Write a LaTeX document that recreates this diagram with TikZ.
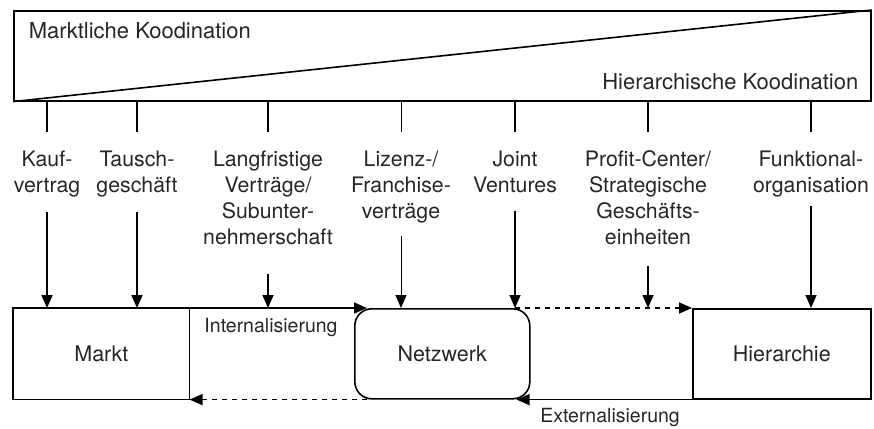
\documentclass[tikz,border=0pt]{standalone}
\usepackage{fontspec}
\setmainfont{TeX Gyre Heros}
\usetikzlibrary{arrows.meta,calc}
\begin{document}
\begin{tikzpicture}[x=1pt,y=-1pt,line width=1.6pt,
  lbl/.style={font=\fontsize{21.3}{26}\selectfont, align=center, anchor=north, inner sep=0pt, text=black!85},
  boxtext/.style={font=\fontsize{21.5}{26}\selectfont, text=black!85},
  small/.style={font=\fontsize{19.5}{24}\selectfont, text=black!85, inner sep=0pt},
  toptext/.style={font=\fontsize{22}{26}\selectfont, text=black!85, inner sep=0pt},
  arr/.style={-{Triangle[length=13pt,width=11pt]}},
  dsh/.style={dash pattern=on 5pt off 5pt},
  tickline/.style={line width=1.5pt},
  thinline/.style={line width=1pt}]
\useasboundingbox (0,0) rectangle (874,428);

% top scale box
\node[draw, rectangle, minimum width=857pt, minimum height=90pt, inner sep=0pt, anchor=north west] (scale) at (13,10) {};
\draw (scale.south west) -- (scale.north east);
\node[toptext, anchor=base west] (mk) at (28,39) {Marktliche Koodination};
\node[toptext, anchor=base east] (hk) at (859,89) {Hierarchische Koodination};

% labels
\node[lbl] (l1) at (47,150) {Kauf-\\vertrag};
\node[lbl] (l2) at (137,150) {Tausch-\\geschäft};
\node[lbl] (l3) at (268,150) {Langfristige\\Verträge/\\Subunter-\\nehmerschaft};
\node[lbl] (l4) at (401,150) {Lizenz-/\\Franchise-\\verträge};
\node[lbl] (l5) at (515,150) {Joint\\Ventures};
\node[lbl] (l6) at (648,150) {Profit-Center/\\Strategische\\Geschäfts-\\einheiten};
\node[lbl] (l7) at (811,150) {Funktional-\\organisation};

% ticks
\foreach \n in {l1,l2,l3,l5,l6,l7}{
  \draw[tickline] (\n.north |- scale.south) -- ($(\n.north |- scale.south)+(0,30)$);
}
\draw[thinline] (l4.north |- scale.south) -- ($(l4.north |- scale.south)+(0,30)$);

% bottom boxes
\node[boxtext, minimum width=175pt, minimum height=90pt, inner sep=0pt, anchor=north west] (markt) at (13,308) {Markt};
\draw (markt.north east) -- (markt.north west) -- (markt.south west) -- (markt.south east);
\draw[line width=1pt] (markt.north east) -- (markt.south east);
\node[boxtext, draw, rounded corners=17pt, minimum width=175pt, minimum height=90pt, inner sep=0pt, anchor=north west] (netz) at (354,308) {Netzwerk};
\node[boxtext, draw, minimum width=178pt, minimum height=90pt, inner sep=0pt, anchor=north west] (hier) at (692,308) {Hierarchie};

% label arrows
\draw[arr] ($(l1.south)+(0,14)$) -- (l1.south |- markt.north);
\draw[arr] ($(l2.south)+(0,14)$) -- (l2.south |- markt.north);
\draw[arr] ($(l3.south)+(0,28)$) -- (l3.south |- markt.north);
\draw[arr, thinline] ($(l4.south)+(0,12)$) -- (l4.south |- netz.north);
\draw[arr] ($(l5.south)+(0,18)$) -- (l5.south |- netz.north);
\draw[arr] ($(l6.south)+(0,20)$) -- (l6.south |- netz.north);
\draw[arr] ($(l7.south)+(0,8)$) -- (l7.south |- hier.north);

% flows
\coordinate (nnw) at ($(netz.north west)+(13,0)$);
\coordinate (nsw) at ($(netz.south west)+(13,0)$);
\coordinate (nne) at (l5.south |- netz.north);
\coordinate (nse) at ($(netz.south east)+(-14,0)$);
\draw[arr] (markt.north east) -- (nnw);
\draw[arr, dsh] (nsw) -- (markt.south east);
\draw[arr, dsh] (nne) -- (hier.north west);
\draw[arr] (hier.south west) -- (nse);
\node[small, anchor=base] (intl) at (271,332) {Internalisierung};
\node[small, anchor=base] (extl) at (610,422) {Externalisierung};
\end{tikzpicture}
\end{document}
